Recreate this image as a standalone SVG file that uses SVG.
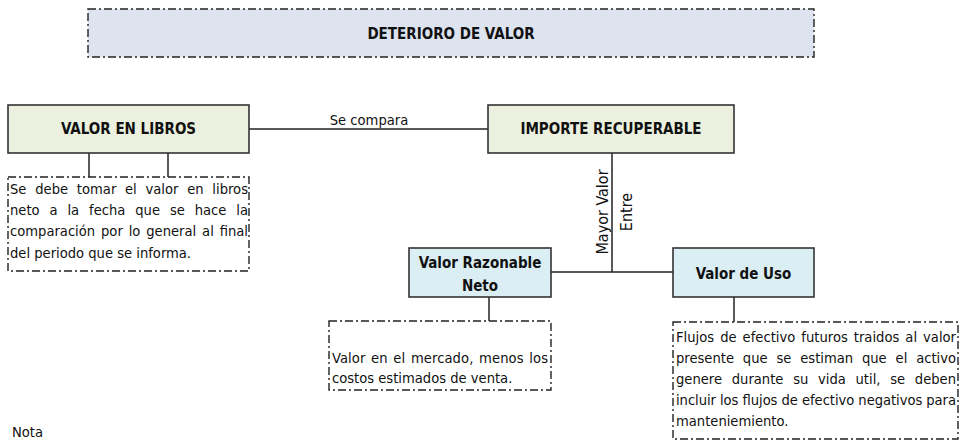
<svg xmlns="http://www.w3.org/2000/svg" width="962" height="440" viewBox="0 0 962 440">
<style>
  .solid { stroke: #333; stroke-width: 1.6; }
  .green { fill: #ebf1de; }
  .blue { fill: #dbeef4; }
  .dash { fill: #fff; stroke: #222; stroke-width: 1.4; stroke-dasharray: 8 3 2 3; }
  .title { fill: #dde4f0; stroke: #222; stroke-width: 1.4; stroke-dasharray: 8 3 2 3; }
  .b { font-family: "DejaVu Sans Condensed", "DejaVu Sans", sans-serif; font-weight: bold; font-size: 15px; fill: #111; text-anchor: middle; }
  .t { font-family: "DejaVu Sans Condensed", "DejaVu Sans", sans-serif; font-size: 14.6px; fill: #111; }
  .r { font-family: "DejaVu Sans Condensed", "DejaVu Sans", sans-serif; font-size: 16px; fill: #111; text-anchor: middle; }
  .c { fill: none; stroke: #222; stroke-width: 1.5; }
</style>
<rect width="962" height="440" fill="#fff"/>
<g id="connectors">
  <line class="c" x1="249" y1="129" x2="488" y2="129"/>
  <line class="c" x1="89" y1="153" x2="89" y2="177"/>
  <line class="c" x1="168" y1="153" x2="168" y2="177"/>
  <line class="c" x1="612" y1="153" x2="612" y2="272"/>
  <line class="c" x1="551" y1="272" x2="673" y2="272"/>
  <line class="c" x1="489" y1="297" x2="489" y2="321"/>
  <line class="c" x1="734" y1="297" x2="734" y2="322" stroke="#555"/>
  <text class="t" x="369" y="125" text-anchor="middle">Se compara</text>
  <text class="r" transform="translate(607.5,212) rotate(-90)">Mayor Valor</text>
  <text class="r" transform="translate(632,212) rotate(-90)">Entre</text>
</g>
<g id="title">
  <rect class="title" x="88" y="9" width="726" height="48"/>
  <text class="b" x="451" y="39">DETERIORO DE VALOR</text>
</g>
<g id="valor-libros">
  <rect class="solid green" x="8" y="105" width="241" height="48"/>
  <text class="b" x="128.5" y="134">VALOR EN LIBROS</text>
</g>
<g id="importe">
  <rect class="solid green" x="488" y="105" width="246" height="48"/>
  <text class="b" x="611" y="134">IMPORTE RECUPERABLE</text>
</g>
<g id="nota-libros">
  <rect class="dash" x="8" y="177" width="241" height="94"/>
  <text class="t" x="10" y="194" word-spacing="4.5" textLength="238" lengthAdjust="spacing">Se debe tomar el valor en libros</text>
  <text class="t" x="10" y="215" word-spacing="5.7" textLength="238" lengthAdjust="spacing">neto a la fecha que se hace la</text>
  <text class="t" x="10" y="236" word-spacing="1.7" textLength="238" lengthAdjust="spacing">comparación por lo general al final</text>
  <text class="t" x="10" y="258">del periodo que se informa.</text>
</g>
<g id="valor-razonable">
  <rect class="solid blue" x="409" y="248" width="142" height="49"/>
  <text class="b" x="480" y="268">Valor Razonable</text>
  <text class="b" x="480" y="291">Neto</text>
</g>
<g id="valor-uso">
  <rect class="solid blue" x="673" y="248" width="141" height="49"/>
  <text class="b" x="743.5" y="279">Valor de Uso</text>
</g>
<g id="nota-razonable">
  <rect class="dash" x="329" y="321" width="222" height="69"/>
  <text class="t" x="332" y="363" word-spacing="1.4" textLength="216" lengthAdjust="spacing">Valor en el mercado, menos los</text>
  <text class="t" x="332" y="383">costos estimados de venta.</text>
</g>
<g id="nota-uso">
  <rect class="dash" x="673" y="322" width="285" height="117"/>
  <text class="t" x="676" y="342" word-spacing="1.8" textLength="280" lengthAdjust="spacing">Flujos de efectivo futuros traidos al valor</text>
  <text class="t" x="676" y="363" word-spacing="4.7" textLength="280" lengthAdjust="spacing">presente que se estiman que el activo</text>
  <text class="t" x="676" y="384" word-spacing="5.5" textLength="280" lengthAdjust="spacing">genere durante su vida util, se deben</text>
  <text class="t" x="676" y="405" textLength="280" lengthAdjust="spacing">incluir los flujos de efectivo negativos para</text>
  <text class="t" x="676" y="426">manteniemiento.</text>
</g>
<g id="nota">
  <text class="t" x="12" y="437">Nota</text>
</g>
</svg>
